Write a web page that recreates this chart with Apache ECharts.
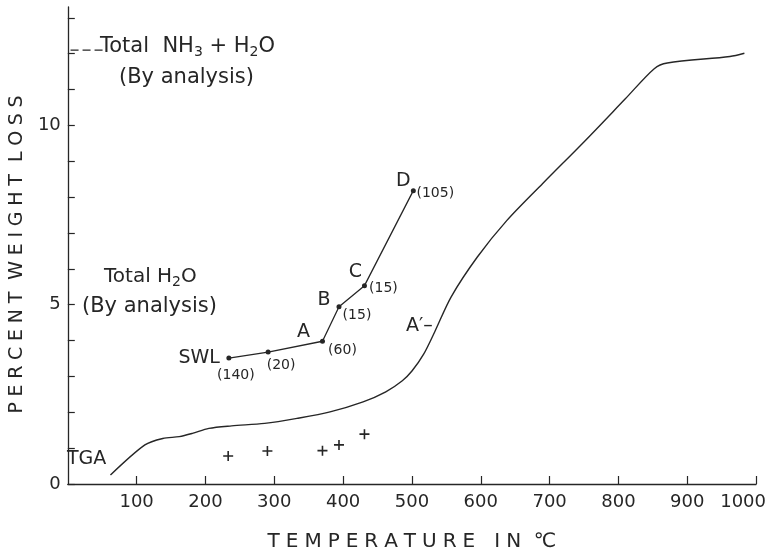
<!DOCTYPE html>
<html><head><meta charset="utf-8">
<script src="https://cdn.jsdelivr.net/npm/echarts@6/dist/echarts.min.js"></script>
<style>html,body{margin:0;padding:0;background:#fff}#c{width:769px;height:557px}</style>
</head><body><div id="c"></div>
<script>
// ---- data ----
const xTicks = [100, 200, 300, 400, 500, 600, 700, 800, 900, 1000];
const yTicks = [0, 1, 2, 3, 4, 5, 6, 7, 8, 9, 10, 11, 12, 13];
const yTickLabels = [0, 5, 10];

const tgaTemp = [62, 112, 138, 162, 181, 205, 238, 286, 333, 381, 429, 462, 486, 500, 517, 533, 557, 595, 638, 690, 752, 810, 852, 871, 962, 983];
const tgaLoss = [0.25, 1.09, 1.27, 1.32, 1.41, 1.55, 1.62, 1.69, 1.83, 2.01, 2.29, 2.57, 2.88, 3.15, 3.62, 4.24, 5.22, 6.33, 7.35, 8.38, 9.58, 10.74, 11.58, 11.74, 11.92, 12.01];

const stageTemp = [234, 291, 370, 394, 431, 502];
const stageLoss = [3.51, 3.68, 3.98, 4.94, 5.53, 8.18];
const stageNames = ['SWL', '', 'A', 'B', 'C', 'D'];
const stageMinutes = [140, 20, 60, 15, 15, 105];

const nh3Temp = [233, 290, 370, 394, 431];
const nh3Loss = [0.78, 0.92, 0.93, 1.09, 1.39];

const totalNH3H2O = 12.1;
const nh3MarkSpan = [4, 52];

// ---- styling ----
const INK = '#262626';
const FONT = 'DejaVu Sans';
const spaced = s => s.split('').join('\u2009\u200A');

// label offsets (pixels) for letter labels and minute labels
const letterStyle = [
  {position: 'left', offset: [-4, 0]},
  null,
  {position: 'inside', offset: [-19, -9]},
  {position: 'inside', offset: [-15, -7]},
  {position: 'inside', offset: [-9, -14]},
  {position: 'inside', offset: [-10, -10]}
];
const minuteStyle = [
  [7, 17], [13, 13], [20, 9], [18, 9], [19, 3], [22, 3]
];

const chart = echarts.init(document.getElementById('c'), null, {renderer: 'canvas'});

const letterData = [];
stageNames.forEach((n, i) => {
  if (!n) return;
  const st = letterStyle[i];
  letterData.push({
    value: [stageTemp[i], stageLoss[i]],
    label: {show: true, formatter: n, position: st.position, offset: st.offset}
  });
});
const minuteData = stageMinutes.map((m, i) => ({
  value: [stageTemp[i], stageLoss[i]],
  label: {show: true, formatter: '(' + m + ')', position: 'inside', offset: minuteStyle[i]}
}));

const subRich = {s: {fontSize: 14, fontFamily: FONT, fill: INK, padding: [11, 0, 0, 0]}};

chart.setOption({
  backgroundColor: '#fff',
  animation: false,
  textStyle: {fontFamily: FONT, color: INK},
  grid: {left: 61, right: 9, top: 7, bottom: 73},
  xAxis: {
    type: 'value', min: 0, max: 1000, interval: 100,
    name: spaced('TEMPERATURE') + '   ' + spaced('IN') + '  ℃',
    nameLocation: 'middle', nameGap: 48,
    nameTextStyle: {fontSize: 20, color: INK, fontFamily: FONT},
    axisLine: {show: true, onZero: false, lineStyle: {color: INK, width: 1.3}},
    axisTick: {show: true, inside: true, length: 8, customValues: xTicks, lineStyle: {color: INK, width: 1.2}},
    axisLabel: {
      customValues: xTicks, margin: 9, fontSize: 18, color: INK, fontFamily: FONT,
      formatter: v => v === 1000 ? '{last|1000}' : String(v),
      rich: {last: {fontSize: 18, color: INK, fontFamily: FONT, padding: [0, 26, 0, 0]}}
    },
    splitLine: {show: false}
  },
  yAxis: {
    type: 'value', min: 0, max: 13.3, interval: 1,
    name: spaced('PERCENT') + '  ' + spaced('WEIGHT') + '  ' + spaced('LOSS'),
    nameLocation: 'middle', nameGap: 34, nameRotate: 90,
    nameTextStyle: {fontSize: 19, color: INK, fontFamily: FONT, padding: [0, 18, 0, 0]},
    axisLine: {show: true, onZero: false, lineStyle: {color: INK, width: 1.3}},
    axisTick: {show: true, inside: true, length: 7, customValues: yTicks, lineStyle: {color: INK, width: 1.2}},
    axisLabel: {customValues: yTickLabels, margin: 7, fontSize: 18, color: INK, fontFamily: FONT},
    splitLine: {show: false}
  },
  series: [
    {
      name: 'TGA', type: 'line', smooth: 0.3, showSymbol: false,
      data: tgaTemp.map((t, i) => [t, tgaLoss[i]]),
      lineStyle: {color: INK, width: 1.4}
    },
    {
      name: 'Stages', type: 'line', symbol: 'circle', symbolSize: 5,
      data: stageTemp.map((t, i) => [t, stageLoss[i]]),
      lineStyle: {color: INK, width: 1.3}, itemStyle: {color: INK}
    },
    {
      name: 'StageLetters', type: 'scatter', symbolSize: 0, itemStyle: {color: INK, opacity: 1},
      data: letterData,
      label: {fontSize: 19, color: INK, fontFamily: FONT}
    },
    {
      name: 'StageMinutes', type: 'scatter', symbolSize: 0, itemStyle: {color: INK, opacity: 1},
      data: minuteData,
      label: {fontSize: 14, color: INK, fontFamily: FONT}
    },
    {
      name: 'NH3', type: 'scatter', symbol: 'path://M4.2,0h1.6v10h-1.6z M0,4.2h10v1.6h-10z', symbolSize: 10,
      data: nh3Temp.map((t, i) => [t, nh3Loss[i]]),
      itemStyle: {color: INK, opacity: 1}
    },
    {
      name: 'TotalMark', type: 'line', showSymbol: false,
      data: nh3MarkSpan.map(t => [t, totalNH3H2O]),
      lineStyle: {color: INK, width: 1.2, type: [8, 4]}
    }
  ],
  graphic: [
    {type: 'text', left: 100, top: 36, style: {
      text: 'Total  NH{s|3} + H{s|2}O', fill: INK, font: '21px "DejaVu Sans"', rich: subRich
    }},
    {type: 'text', left: 119, top: 67, style: {text: '(By analysis)', fill: INK, font: '21px "DejaVu Sans"'}},
    {type: 'text', left: 104, top: 267, style: {
      text: 'Total H{s|2}O', fill: INK, font: '20px "DejaVu Sans"', rich: subRich
    }},
    {type: 'text', left: 82, top: 296, style: {text: '(By analysis)', fill: INK, font: '21px "DejaVu Sans"'}},
    {type: 'text', left: 67, top: 450, style: {text: 'TGA', fill: INK, font: '19px "DejaVu Sans"'}},
    {type: 'text', left: 406, top: 317, style: {text: 'A\u2032\u2013', fill: INK, font: '19px "DejaVu Sans"'}}
  ]
});
</script>
</body></html>
